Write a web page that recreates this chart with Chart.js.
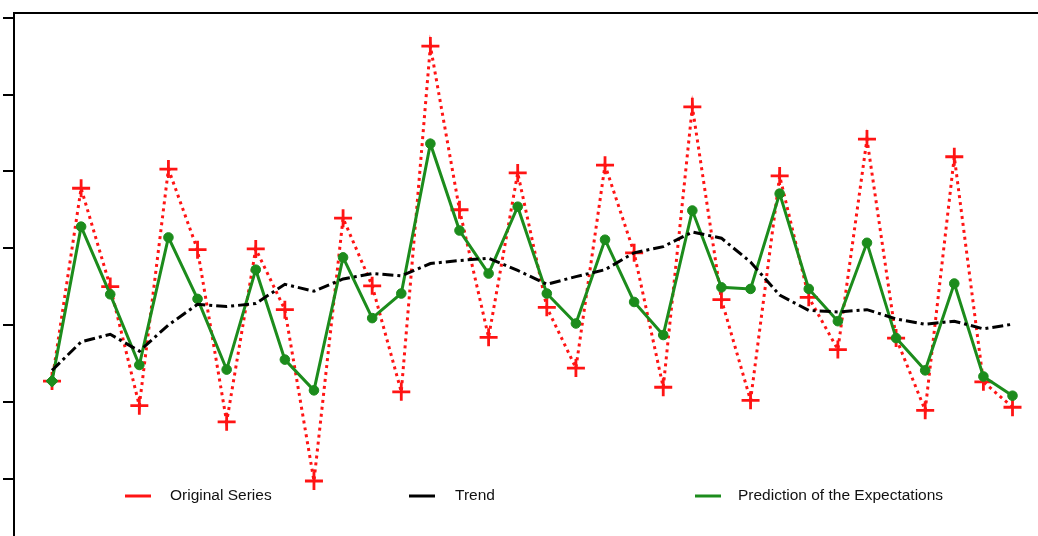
<!DOCTYPE html>
<html>
<head>
<meta charset="utf-8">
<script src="https://cdn.jsdelivr.net/npm/chart.js@4.4.1/dist/chart.umd.min.js"></script>
<style>
  html, body { margin: 0; padding: 0; background: #ffffff; }
  #wrap { width: 1038px; height: 536px; position: relative; }
</style>
</head>
<body>
<div id="wrap"><canvas id="chart" width="1038" height="536"></canvas></div>
<script>
// Time periods 1..34
const periods = [1,2,3,4,5,6,7,8,9,10,11,12,13,14,15,16,17,18,19,20,21,22,23,24,25,26,27,28,29,30,31,32,33,34];

// Observed series
const originalSeries = [12.7, 37.8, 25.0, 9.5, 40.3, 29.8, 7.4, 29.9, 22.0, -0.3,
  33.9, 25.1, 11.3, 56.3, 35.0, 18.4, 39.8, 22.3, 14.4, 40.8,
  29.4, 11.9, 48.4, 23.3, 10.2, 39.4, 23.6, 16.8, 44.2, 18.3,
  8.9, 41.9, 12.6, 9.3];

// Smoothed trend component
const trendSeries = [14.1, 17.8, 18.8, 16.6, 20.0, 22.7, 22.4, 22.8, 25.3, 24.4,
  26.0, 26.7, 26.4, 28.0, 28.4, 28.7, 27.1, 25.3, 26.3, 27.2,
  29.4, 30.2, 32.1, 31.3, 28.2, 23.9, 21.9, 21.7, 22.0, 20.8,
  20.1, 20.5, 19.5, 20.1];

// Predicted expectations
const expectationSeries = [12.7, 32.8, 24.0, 14.8, 31.4, 23.4, 14.2, 27.2, 15.5, 11.5,
  28.8, 20.9, 24.1, 43.6, 32.3, 26.7, 35.4, 24.1, 20.2, 31.1,
  23.0, 18.7, 34.9, 24.9, 24.7, 37.1, 24.7, 20.5, 30.7, 18.3,
  14.1, 25.4, 13.3, 10.8];

// Y-axis tick values (labels are not shown)
const yTicks = [0, 10, 20, 30, 40, 50, 60];

// Legend labels
const legendLabels = ['Original Series', 'Trend', 'Prediction of the Expectations'];

const RED = '#ff1414';
const BLACK = '#000000';
const GREEN = '#1c8c1c';

const toPoints = (arr) => arr.map((v, i) => ({ x: periods[i], y: v }));

// Frame line along the top of the plot area and the custom legend row
const framePlugin = {
  id: 'frame',
  afterDraw(chart) {
    const { ctx, chartArea } = chart;
    ctx.save();
    ctx.strokeStyle = '#000';
    ctx.lineWidth = 2;
    ctx.beginPath();
    ctx.moveTo(chartArea.left - 1, chartArea.top);
    ctx.lineTo(chart.width, chartArea.top);
    ctx.stroke();

    const items = [
      { color: RED, x: 125, tx: 170 },
      { color: BLACK, x: 409, tx: 455 },
      { color: GREEN, x: 695, tx: 738 }
    ];
    const y = 496;
    ctx.font = '15.5px "Liberation Sans", Arial, sans-serif';
    ctx.textBaseline = 'middle';
    ctx.fillStyle = '#111';
    items.forEach((it, i) => {
      ctx.strokeStyle = it.color;
      ctx.lineWidth = 3;
      ctx.beginPath();
      ctx.moveTo(it.x, y);
      ctx.lineTo(it.x + 26, y);
      ctx.stroke();
      ctx.fillText(legendLabels[i], it.tx, y);
    });
    ctx.restore();
  }
};

const firstDiamond = periods.map((p, i) => i === 0 ? 'rectRot' : 'circle');
const firstRadius = periods.map((p, i) => i === 0 ? 6 : 4.8);

new Chart(document.getElementById('chart'), {
  type: 'line',
  data: {
    datasets: [
      {
        label: legendLabels[1],
        data: toPoints(trendSeries),
        borderColor: BLACK,
        borderWidth: 3,
        borderDash: [11, 4, 3, 4],
        pointRadius: 0,
        fill: false,
        tension: 0
      },
      {
        label: legendLabels[2],
        data: toPoints(expectationSeries),
        borderColor: GREEN,
        backgroundColor: GREEN,
        borderWidth: 3,
        pointStyle: firstDiamond,
        pointRadius: firstRadius,
        pointBorderWidth: 1,
        pointBorderColor: GREEN,
        pointBackgroundColor: GREEN,
        fill: false,
        tension: 0
      },
      {
        label: legendLabels[0],
        data: toPoints(originalSeries),
        borderColor: RED,
        borderWidth: 3,
        borderDash: [3, 4],
        borderCapStyle: 'butt',
        pointStyle: 'cross',
        pointRadius: 9,
        pointBorderWidth: 2.8,
        pointBorderColor: RED,
        fill: false,
        tension: 0
      }
    ]
  },
  options: {
    responsive: false,
    animation: false,
    devicePixelRatio: 1,
    layout: { autoPadding: false, padding: { left: 3, top: 13, right: 0, bottom: 0 } },
    plugins: {
      legend: { display: false },
      tooltip: { enabled: false }
    },
    scales: {
      x: {
        type: 'linear',
        display: false,
        min: -0.306,
        max: 34.876
      },
      y: {
        type: 'linear',
        min: -7.46,
        max: 60.61,
        afterBuildTicks(scale) {
          scale.ticks = yTicks.map(v => ({ value: v }));
        },
        ticks: { display: false },
        grid: {
          display: true,
          drawOnChartArea: false,
          drawTicks: true,
          tickLength: 11,
          lineWidth: 2,
          color: '#000'
        },
        border: { display: true, color: '#000', width: 2 }
      }
    }
  },
  plugins: [framePlugin]
});
</script>
</body>
</html>
